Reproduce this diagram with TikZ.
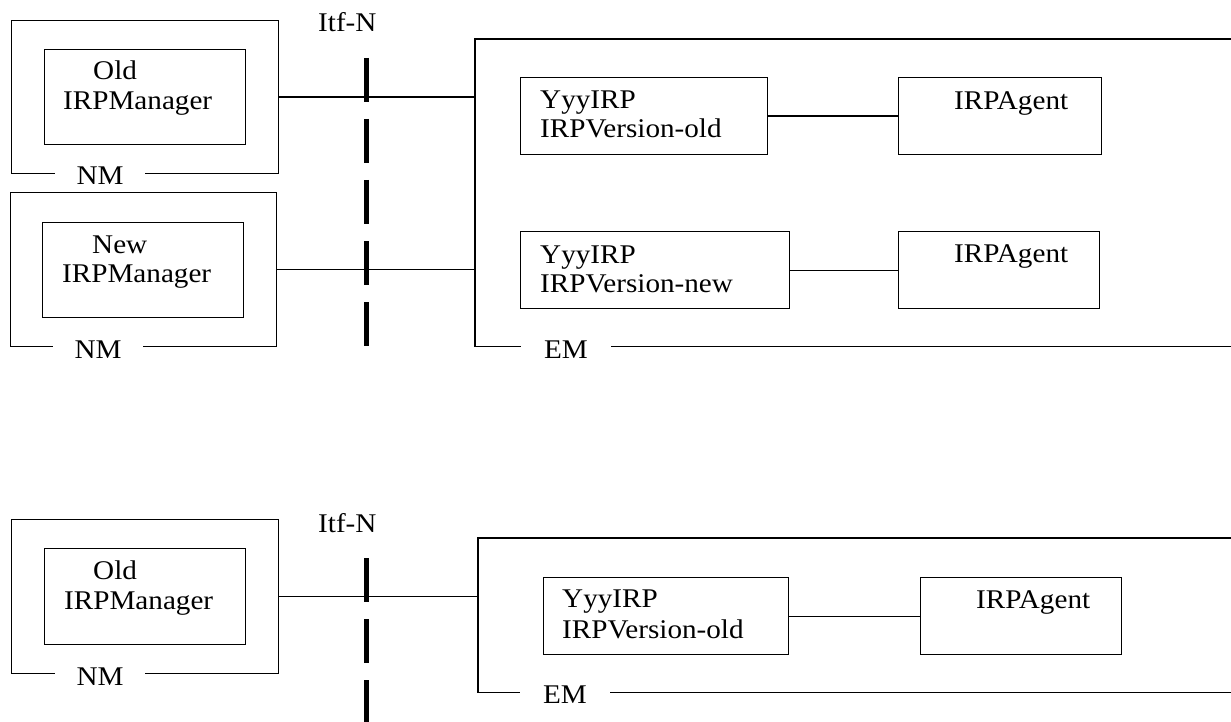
\documentclass[tikz,border=0pt]{standalone}
\usepackage{fontspec}
\setmainfont{Liberation Serif}[FakeStretch=1.08]
\begin{document}
\begin{tikzpicture}[x=1pt,y=-1pt,
  box/.style={draw, line width=1.4pt, inner sep=0pt, anchor=north west},
  frame/.style={draw=none, inner sep=0pt, anchor=north west},
  edge/.style={line width=1.4pt},
  itf/.style={line width=5pt, dash pattern=on 44pt off 17pt},
  txt/.style={anchor=base west, inner sep=0pt, font=\fontsize{27}{31}\selectfont},
  lbl/.style={anchor=base, fill=white, inner sep=0pt, minimum width=90pt, font=\fontsize{27}{31}\selectfont}]
\useasboundingbox (0,0) rectangle (1231,722);

% ---------- upper diagram ----------
\node[box, minimum width=267pt, minimum height=153pt] (nm1) at (11,20) {};
\node[box, minimum width=201pt, minimum height=95pt] (mgr1) at (44,49) {};
\node[lbl] (nm1l) at (100,185) {NM};
\node[txt] (t1a) at (93,80) {Old};
\node[txt] (t1b) at (63,110) {IRPManager};

\node[box, minimum width=266pt, minimum height=154pt] (nm2) at (10,192) {};
\node[box, minimum width=201pt, minimum height=95pt] (mgr2) at (42,222) {};
\node[lbl] (nm2l) at (98,358) {NM};
\node[txt] (t2a) at (92,253) {New};
\node[txt] (t2b) at (62,282) {IRPManager};

\node[frame, minimum width=756pt, minimum height=307pt] (em1) at (475,39) {};
\draw[edge] (em1.north east) -- (em1.north west) -- (em1.south west) -- (em1.south east);
\node[lbl] (em1l) at (566,358) {EM};

\node[box, minimum width=247pt, minimum height=77pt] (yyy1) at (520,77) {};
\node[txt] (t3a) at (540,109) {YyyIRP};
\node[txt] (t3b) at (540,138) {IRPVersion-old};
\node[box, minimum width=203pt, minimum height=77pt] (ag1) at (898,77) {};
\node[txt] (t3c) at (954,110) {IRPAgent};

\node[box, minimum width=269pt, minimum height=77pt] (yyy2) at (520,231) {};
\node[txt] (t4a) at (540,263) {YyyIRP};
\node[txt] (t4b) at (540,292) {IRPVersion-new};
\node[box, minimum width=201pt, minimum height=77pt] (ag2) at (898,231) {};
\node[txt] (t4c) at (954,262) {IRPAgent};

\draw[edge] (nm1.east) -- (nm1.east -| em1.west);
\draw[edge] (nm2.east) -- (nm2.east -| em1.west);
\draw[edge] (yyy1.east) -- (ag1.west);
\draw[edge] (yyy2.east) -- (ag2.west);

\node[txt] (itf1) at (318,32) {Itf-N};
\coordinate (itf1a) at (366,58);
\coordinate (itf1b) at (366,346);
\draw[itf] (itf1a) -- (itf1b);

% ---------- lower diagram ----------
\node[box, minimum width=267pt, minimum height=154pt] (nm3) at (11,519) {};
\node[box, minimum width=201pt, minimum height=96pt] (mgr3) at (44,548) {};
\node[lbl] (nm3l) at (100,685) {NM};
\node[txt] (t5a) at (93,579) {Old};
\node[txt] (t5b) at (64,609) {IRPManager};

\node[frame, minimum width=753pt, minimum height=154pt] (em2) at (478,538) {};
\draw[edge] (em2.north east) -- (em2.north west) -- (em2.south west) -- (em2.south east);
\node[lbl] (em2l) at (565,703) {EM};

\node[box, minimum width=245pt, minimum height=77pt] (yyy3) at (543,577) {};
\node[txt] (t6a) at (562,607) {YyyIRP};
\node[txt] (t6b) at (562,638) {IRPVersion-old};
\node[box, minimum width=201pt, minimum height=77pt] (ag3) at (920,577) {};
\node[txt] (t6c) at (976,608) {IRPAgent};

\draw[edge] (nm3.east) -- (nm3.east -| em2.west);
\draw[edge] (yyy3.east) -- (ag3.west);

\node[txt] (itf2) at (318,532) {Itf-N};
\coordinate (itf2a) at (366,558);
\coordinate (itf2b) at (366,722);
\draw[itf] (itf2a) -- (itf2b);
\end{tikzpicture}
\end{document}
